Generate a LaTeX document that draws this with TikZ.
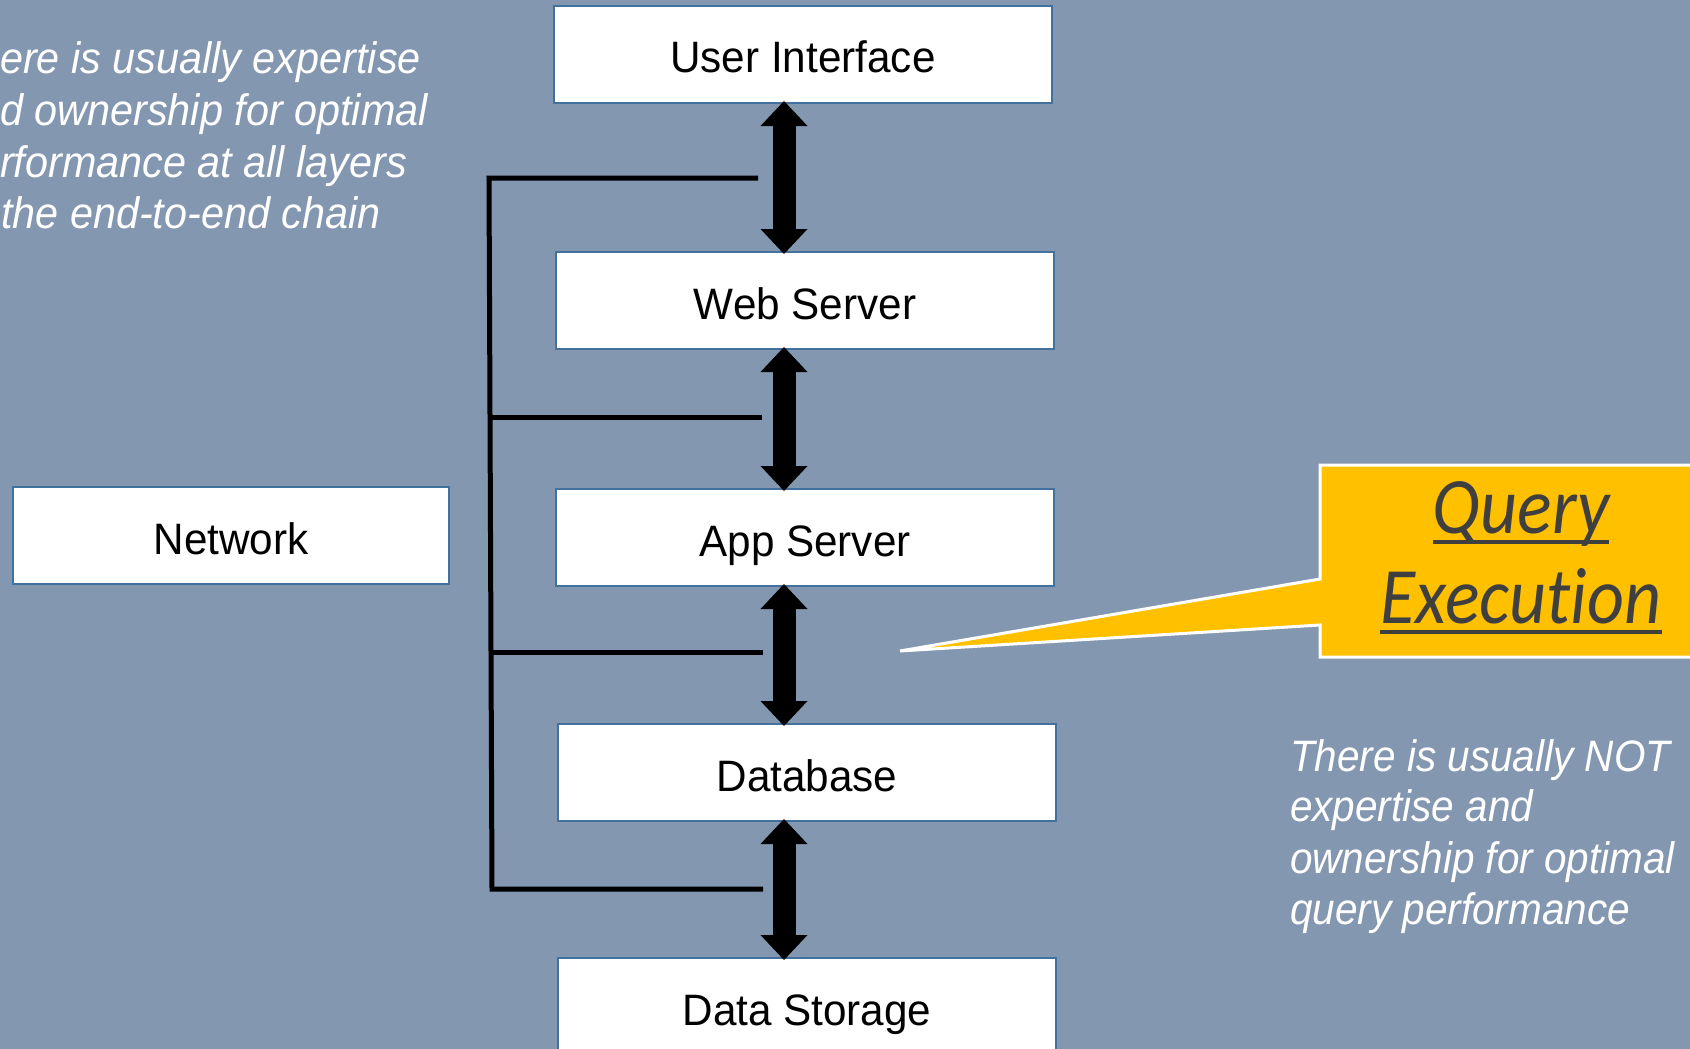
\documentclass[tikz,border=0pt]{standalone}
\usepackage{fontspec}
\usetikzlibrary{arrows.meta}
\newfontfamily\labfont{Liberation Sans}[FakeStretch=0.96]
\newfontfamily\leftfont{Liberation Sans}[FakeStretch=0.94]
\newfontfamily\rightfont{Liberation Sans}[FakeStretch=0.92]
\newfontfamily\qfont{Carlito}[FakeStretch=0.9, Ligatures=NoCommon]
\definecolor{bg}{HTML}{8497B0}
\definecolor{boxline}{HTML}{41719C}
\definecolor{qyellow}{HTML}{FFC000}
\definecolor{qtext}{HTML}{3F3F3F}
\begin{document}
\begin{tikzpicture}[x=1pt,y=-1pt,
  layer/.style={draw=boxline, line width=2pt, fill=white, minimum width=498pt,
    minimum height=97pt, inner sep=0pt, text height=37pt, text depth=0pt,
    font=\labfont\fontsize{44}{50}\selectfont, anchor=north west},
  dblarrow/.style={line width=23pt,
    {Triangle[width=47pt,length=25pt,line width=0pt]}-{Triangle[width=47pt,length=25pt,line width=0pt]},
    shorten <=-3pt, shorten >=-3pt},
  bracket/.style={line width=5pt, black},
  lnote/.style={text=white, anchor=base west, inner sep=0pt,
    font=\leftfont\itshape\fontsize{44}{52}\selectfont},
  rnote/.style={text=white, anchor=base west, inner sep=0pt,
    font=\rightfont\itshape\fontsize{44}{52}\selectfont},
  qtxt/.style={text=qtext, anchor=base, inner sep=0pt,
    font=\qfont\itshape\fontsize{80}{92}\selectfont},
  qline/.style={qtext, line width=4pt},
  callout/.style={draw=white, line width=3pt, fill=qyellow, line join=miter},
]
\fill[bg] (0,0) rectangle (1690,1049);
\useasboundingbox (0,0) rectangle (1690,1049);
\clip (0,0) rectangle (1690,1049);

% bracket lines
\coordinate (t1) at (489,178);
\coordinate (e1) at (758,178);
\coordinate (t2) at (490,417);
\coordinate (e2) at (762,417);
\coordinate (t3) at (491,652);
\coordinate (e3) at (763,652);
\coordinate (t4) at (492,889);
\coordinate (e4) at (763,889);
\draw[bracket] (e1) -- (t1) -- (t4) -- (e4);
\draw[bracket] (t2) -- (e2);
\draw[bracket] (t3) -- (e3);

% layer boxes
\node[layer] (ui)  at (553,5)   {User Interface};
\node[layer] (ws)  at (555,251) {Web Server};
\node[layer] (app) at (555,488) {App Server};
\node[layer] (db)  at (557,723) {Database};
\node[layer] (ds)  at (557,957) {Data Storage};
\node[layer, minimum width=436pt] (net) at (12,486) {Network};

% arrows
\coordinate (ax) at (784,0);
\draw[dblarrow] (ui.south -| ax) -- (ws.north -| ax);
\draw[dblarrow] (ws.south -| ax) -- (app.north -| ax);
\draw[dblarrow] (app.south -| ax) -- (db.north -| ax);
\draw[dblarrow] (db.south -| ax) -- (ds.north -| ax);

% callout
\coordinate (tip) at (900,651);
\draw[callout] (1320,465) -- (1700,465) -- (1700,657) -- (1320,657)
  -- (1320,625) -- (tip) -- (1320,579) -- cycle;
\node[qtxt] (q1) at (1521,533) {Query};
\node[qtxt] (q2) at (1521,623) {Execution};
\draw[qline] ([yshift=-9pt]q1.base west) -- ([yshift=-9pt]q1.base east);
\draw[qline] ([yshift=-9pt]q2.base west) -- ([yshift=-9pt]q2.base east);

% left note
\node[lnote] (l1) at (0,74)  {ere is usually expertise};
\node[lnote] (l2) at (0,125) {d ownership for optimal};
\node[lnote] (l3) at (0,177) {rformance at all layers};
\node[lnote] (l4) at (1,228) {the end-to-end chain};

% right note
\node[rnote] (r1) at (1290,771) {There is usually NOT};
\node[rnote] (r2) at (1290,821) {expertise and};
\node[rnote] (r3) at (1290,873) {ownership for optimal};
\node[rnote] (r4) at (1290,924) {query performance};
\end{tikzpicture}
\end{document}
